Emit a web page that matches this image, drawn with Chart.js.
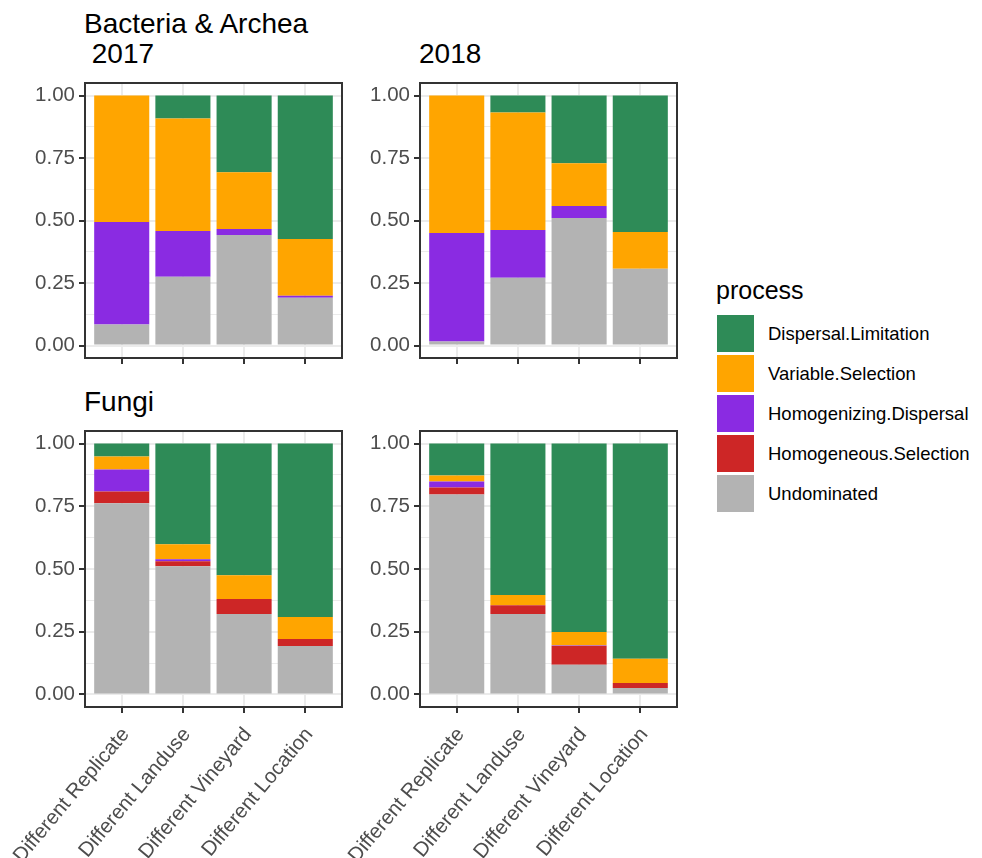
<!DOCTYPE html>
<html>
<head>
<meta charset="utf-8">
<script src="https://cdn.jsdelivr.net/npm/chart.js@4"></script>
<style>
  html, body { margin: 0; padding: 0; background: #ffffff; }
  body { width: 982px; height: 858px; position: relative; overflow: hidden;
         font-family: "Liberation Sans", Arial, Helvetica, sans-serif; }
  .panel { position: absolute; }
  .title { position: absolute; font-size: 28px; line-height: 30px; color: #000; white-space: pre; }
  .ltitle { position: absolute; font-size: 25px; line-height: 28px; color: #000; }
  .lkey { position: absolute; width: 37px; height: 37px; }
  .llabel { position: absolute; font-size: 18.5px; line-height: 37px; color: #000; white-space: nowrap; }
</style>
</head>
<body>

<div class="title" style="left:84px; top:9px;">Bacteria &amp; Archea
 2017</div>
<div class="title" style="left:419px; top:39px;">2018</div>
<div class="title" style="left:84px; top:387px;">Fungi</div>

<div class="panel" style="left:0px;   top:78px;  width:350px; height:300px;"><canvas id="p1"></canvas></div>
<div class="panel" style="left:342px; top:78px;  width:343px; height:300px;"><canvas id="p2"></canvas></div>
<div class="panel" style="left:0px;   top:426px; width:350px; height:432px;"><canvas id="p3"></canvas></div>
<div class="panel" style="left:342px; top:426px; width:343px; height:432px;"><canvas id="p4"></canvas></div>

<div id="legend"></div>

<script>
// ---- categories, process names and tick values ----
const categories = ['Different Replicate', 'Different Landuse', 'Different Vineyard', 'Different Location'];
const processes  = ['Dispersal.Limitation', 'Variable.Selection', 'Homogenizing.Dispersal', 'Homogeneous.Selection', 'Undominated'];
const yTickValues = [0, 0.125, 0.25, 0.375, 0.5, 0.625, 0.75, 0.875, 1];

// ---- Bacteria & Archea, 2017 (relative share per category) ----
const bac17DispersalLimitation   = [0.000, 0.092, 0.307, 0.574];
const bac17VariableSelection     = [0.506, 0.450, 0.227, 0.227];
const bac17HomogenizingDispersal = [0.410, 0.183, 0.024, 0.008];
const bac17HomogeneousSelection  = [0.000, 0.000, 0.000, 0.000];
const bac17Undominated           = [0.084, 0.275, 0.442, 0.191];

// ---- Bacteria & Archea, 2018 ----
const bac18DispersalLimitation   = [0.000, 0.068, 0.271, 0.546];
const bac18VariableSelection     = [0.550, 0.470, 0.171, 0.147];
const bac18HomogenizingDispersal = [0.434, 0.191, 0.048, 0.000];
const bac18HomogeneousSelection  = [0.000, 0.000, 0.000, 0.000];
const bac18Undominated           = [0.016, 0.271, 0.510, 0.307];

// ---- Fungi, 2017 ----
const fun17DispersalLimitation   = [0.052, 0.401, 0.525, 0.691];
const fun17VariableSelection     = [0.051, 0.060, 0.095, 0.088];
const fun17HomogenizingDispersal = [0.088, 0.008, 0.000, 0.000];
const fun17HomogeneousSelection  = [0.047, 0.020, 0.059, 0.028];
const fun17Undominated           = [0.762, 0.511, 0.321, 0.193];

// ---- Fungi, 2018 ----
const fun18DispersalLimitation   = [0.127, 0.604, 0.751, 0.858];
const fun18VariableSelection     = [0.024, 0.040, 0.054, 0.096];
const fun18HomogenizingDispersal = [0.024, 0.000, 0.002, 0.000];
const fun18HomogeneousSelection  = [0.028, 0.035, 0.075, 0.020];
const fun18Undominated           = [0.797, 0.321, 0.118, 0.026];

// ---- styling ----
const processColors = ['#2E8B57', '#FFA500', '#8A2BE2', '#CD2626', '#B3B3B3'];
const FONT = '"Liberation Sans", Arial, Helvetica, sans-serif';
const AXIS_TEXT = '#4D4D4D';
const AXIS_SIZE = 20.5;
const GRID = '#EBEBEB';
const DARK = '#333333';

const isMajor = v => Math.abs(Math.round(v * 1000) % 250) === 0;

// Frame drawn on top of the bars, like a panel border
const panelBorder = {
  id: 'panelBorder',
  afterDatasetsDraw(chart) {
    const { ctx, chartArea: a } = chart;
    ctx.save();
    ctx.strokeStyle = DARK;
    ctx.lineWidth = 2;
    ctx.strokeRect(a.left, a.top, a.right - a.left, a.bottom - a.top);
    ctx.restore();
  }
};

function makePanel(id, series, opts) {
  // series: arrays in legend order (Dispersal.Limitation ... Undominated);
  // stacked bottom-up, so Undominated goes first.
  const order = [4, 3, 2, 1, 0];
  const datasets = order.map(k => ({
    label: processes[k],
    data: series[k].map((v, i) => ({ x: i + 1, y: v })),
    backgroundColor: processColors[k],
    borderWidth: 0,
    barPercentage: 0.9,
    categoryPercentage: 1.0
  }));

  new Chart(document.getElementById(id), {
    type: 'bar',
    data: { datasets },
    plugins: [panelBorder],
    options: {
      responsive: true,
      maintainAspectRatio: false,
      animation: false,
      layout: { padding: { top: 5, right: 8, left: 0, bottom: 0 } },
      plugins: { legend: { display: false }, tooltip: { enabled: false }, title: { display: false } },
      scales: {
        x: {
          type: 'linear', stacked: true, min: 0.4, max: 4.6, offset: false,
          afterBuildTicks: s => { s.ticks = [1, 2, 3, 4].map(v => ({ value: v })); },
          afterFit: s => { s.height = opts.xHeight; s.paddingLeft = 0; s.paddingRight = 0; },
          ticks: {
            autoSkip: false,
            minRotation: opts.labels ? 50 : 0, maxRotation: opts.labels ? 50 : 0,
            padding: 10,
            labelOffset: 4,
            color: AXIS_TEXT,
            font: { family: FONT, size: AXIS_SIZE },
            callback: v => opts.labels ? categories[v - 1] : ''
          },
          grid: { offset: false, color: GRID, lineWidth: 2, tickColor: DARK, tickWidth: 2, tickLength: 6 },
          border: { display: false }
        },
        y: {
          type: 'linear', stacked: true, min: -0.05, max: 1.05,
          afterBuildTicks: s => { s.ticks = yTickValues.map(v => ({ value: v })); },
          afterFit: s => { s.width = opts.yWidth; s.paddingTop = 0; s.paddingBottom = 0; },
          ticks: {
            autoSkip: false,
            padding: 4,
            color: AXIS_TEXT,
            font: { family: FONT, size: AXIS_SIZE },
            callback: v => isMajor(v) ? v.toFixed(2) : ''
          },
          grid: {
            color: GRID,
            lineWidth: c => (c.tick && isMajor(c.tick.value)) ? 2 : 1,
            tickColor: c => (c.tick && isMajor(c.tick.value)) ? DARK : 'rgba(0,0,0,0)',
            tickWidth: 2,
            tickLength: 6
          },
          border: { display: false }
        }
      }
    }
  });
}

makePanel('p1', [bac17DispersalLimitation, bac17VariableSelection, bac17HomogenizingDispersal, bac17HomogeneousSelection, bac17Undominated],
          { labels: false, xHeight: 20, yWidth: 85 });
makePanel('p2', [bac18DispersalLimitation, bac18VariableSelection, bac18HomogenizingDispersal, bac18HomogeneousSelection, bac18Undominated],
          { labels: false, xHeight: 20, yWidth: 78 });
makePanel('p3', [fun17DispersalLimitation, fun17VariableSelection, fun17HomogenizingDispersal, fun17HomogeneousSelection, fun17Undominated],
          { labels: true, xHeight: 151, yWidth: 85 });
makePanel('p4', [fun18DispersalLimitation, fun18VariableSelection, fun18HomogenizingDispersal, fun18HomogeneousSelection, fun18Undominated],
          { labels: true, xHeight: 151, yWidth: 78 });

// ---- legend ----
const legend = document.getElementById('legend');
const lt = document.createElement('div');
lt.className = 'ltitle';
lt.style.left = '716px';
lt.style.top = '276px';
lt.textContent = 'process';
legend.appendChild(lt);
processes.forEach((name, i) => {
  const top = 315 + i * 40;
  const key = document.createElement('div');
  key.className = 'lkey';
  key.style.left = '717px';
  key.style.top = top + 'px';
  key.style.background = processColors[i];
  legend.appendChild(key);
  const lab = document.createElement('div');
  lab.className = 'llabel';
  lab.style.left = '768px';
  lab.style.top = top + 'px';
  lab.textContent = name;
  legend.appendChild(lab);
});
</script>
</body>
</html>
